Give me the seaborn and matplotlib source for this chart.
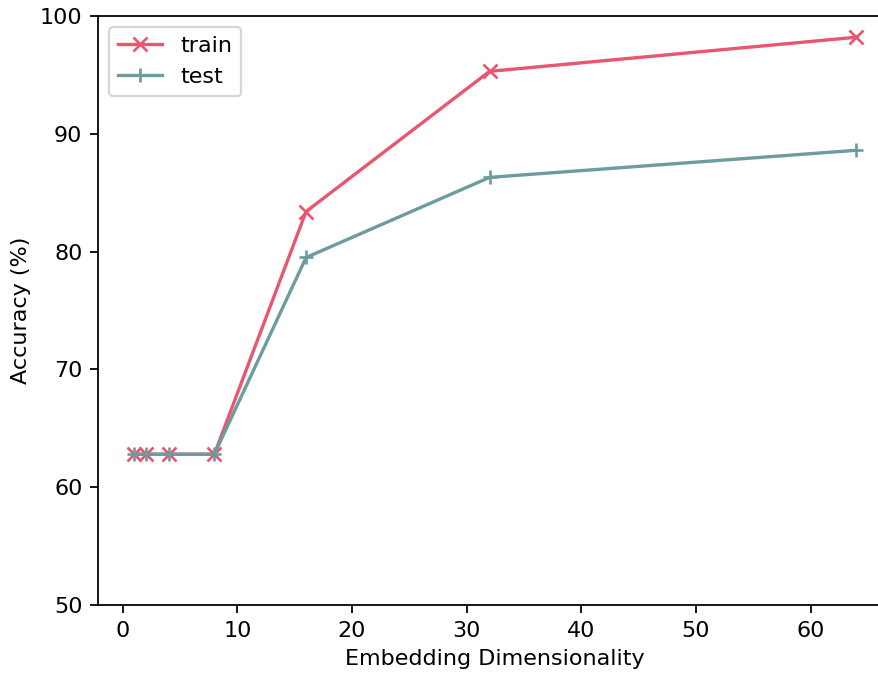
import matplotlib
matplotlib.use("Agg")
import matplotlib.pyplot as plt
import seaborn as sns
import pandas as pd

dims = [1, 2, 4, 8, 16, 32, 64]
train_acc = [62.8, 62.8, 62.8, 62.8, 83.4, 95.3, 98.2]
test_acc = [62.8, 62.8, 62.8, 62.8, 79.5, 86.3, 88.6]

train_color = "#e8566f"
test_color = "#6c9c9e"

df = pd.DataFrame({"dim": dims, "train": train_acc, "test": test_acc})

DPI = 160
fig = plt.figure(figsize=(878 / DPI, 675 / DPI), dpi=DPI)
ax = fig.add_axes([0.1116, 0.1037, 0.905, 0.8726])

sns.lineplot(data=df, x="dim", y="train", ax=ax, color=train_color,
             marker="x", markersize=6, markeredgewidth=1.2,
             markeredgecolor=train_color, linewidth=1.5, label="train")
sns.lineplot(data=df, x="dim", y="test", ax=ax, color=test_color,
             marker="+", markersize=6, markeredgewidth=1.2,
             markeredgecolor=test_color, linewidth=1.5, label="test")

ax.set_xlim(-2.15, 67.15)
ax.set_ylim(50, 100)
ax.set_xticks([0, 10, 20, 30, 40, 50, 60])
ax.set_yticks([50, 60, 70, 80, 90, 100])
ax.set_xlabel("Embedding Dimensionality")
ax.set_ylabel("Accuracy (%)")
ax.legend(loc="upper left")

fig.savefig("out.png", dpi=DPI)
